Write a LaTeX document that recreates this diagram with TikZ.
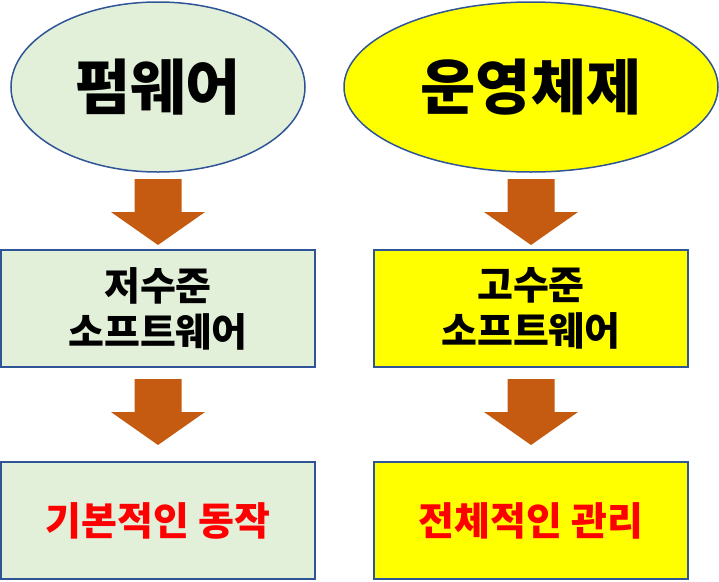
\documentclass[tikz,border=0pt]{standalone}
\usepackage{fontspec}
\usetikzlibrary{shapes.geometric}
\newfontfamily\kr{Noto Sans CJK KR}
\definecolor{lgreen}{HTML}{E2F0D9}
\definecolor{bord}{HTML}{2F5597}
\definecolor{arrowc}{HTML}{C55A11}
\definecolor{yel}{HTML}{FFFF00}
\begin{document}
\begin{tikzpicture}[x=1pt,y=-1pt,
  ell/.style={ellipse, draw=bord, line width=1.5pt, inner sep=0pt, font=\kr\bfseries\fontsize{60}{64}\selectfont},
  box/.style={rectangle, draw=bord, line width=1.5pt, minimum width=314pt, minimum height=117pt, inner sep=0pt, align=center, font=\kr\bfseries\fontsize{39}{46}\selectfont},
  redtxt/.style={text=red},
  barrow/.pic={\fill[arrowc] (-23.5,0) -- (23.5,0) -- (23.5,33) -- (47,33) -- (0,66) -- (-47,33) -- (-23.5,33) -- cycle;}
]
\useasboundingbox (0,0) rectangle (719,581);
\node[ell, fill=lgreen, minimum width=294pt, minimum height=170pt] (fw) at (158,87) {펌웨어};
\node[ell, fill=yel, minimum width=374pt, minimum height=170pt] (os) at (531,87) {운영체제};
\node[box, fill=lgreen] (low) at (158,308.5) {저수준\\소프트웨어};
\node[box, fill=yel] (high) at (531,308.5) {고수준\\소프트웨어};
\node[box, fill=lgreen, redtxt] (basic) at (158,520.5) {기본적인 동작};
\node[box, fill=yel, redtxt] (whole) at (531,520.5) {전체적인 관리};
\coordinate (a1) at (158,179);
\coordinate (a2) at (531,179);
\coordinate (a3) at (158,379);
\coordinate (a4) at (531,379);
\pic at (a1) {barrow};
\pic at (a2) {barrow};
\pic at (a3) {barrow};
\pic at (a4) {barrow};
\end{tikzpicture}
\end{document}
